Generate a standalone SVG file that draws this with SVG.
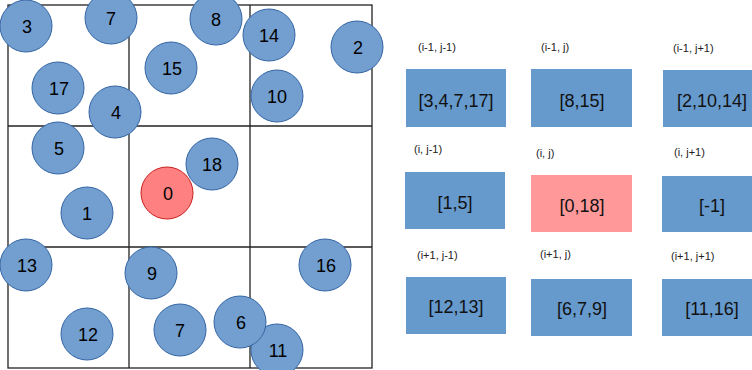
<svg xmlns="http://www.w3.org/2000/svg" width="752" height="370" viewBox="0 0 752 370">
<style>
.grid{fill:none;stroke:#222;stroke-width:1.3}
.c{fill:#729fcf;stroke:#3465a4;stroke-width:1}
.c0{fill:#ff8080;stroke:#c9211e;stroke-width:1}
.ct{font-family:"Liberation Sans",Arial,sans-serif;font-size:18px;fill:#000;text-anchor:middle}
.box{fill:#6699cc}
.box0{fill:#ff9999}
.bt{font-family:"Liberation Sans",Arial,sans-serif;font-size:18px;fill:#111;text-anchor:middle}
.lab{font-family:"Liberation Sans",Arial,sans-serif;font-size:11px;fill:#222}
</style>
<rect width="752" height="370" fill="#fff"/>
<g id="grid">
<rect class="grid" x="8" y="5" width="364" height="363"/>
<line class="grid" x1="129" y1="5" x2="129" y2="368"/>
<line class="grid" x1="250" y1="5" x2="250" y2="368"/>
<line class="grid" x1="8" y1="126" x2="372" y2="126"/>
<line class="grid" x1="8" y1="247" x2="372" y2="247"/>
</g>
<g id="n3"><circle class="c" cx="26" cy="26" r="26"/><text class="ct" x="27" y="32.5">3</text></g>
<g id="n7a"><circle class="c" cx="111" cy="18" r="26"/><text class="ct" x="111" y="24.5">7</text></g>
<g id="n8"><circle class="c" cx="216" cy="19" r="26"/><text class="ct" x="216" y="25.5">8</text></g>
<g id="n14"><circle class="c" cx="269" cy="35" r="26"/><text class="ct" x="269" y="41.5">14</text></g>
<g id="n2"><circle class="c" cx="357" cy="47" r="26"/><text class="ct" x="358" y="53.5">2</text></g>
<g id="n15"><circle class="c" cx="171" cy="68" r="26"/><text class="ct" x="172" y="74.5">15</text></g>
<g id="n17"><circle class="c" cx="58" cy="88" r="26"/><text class="ct" x="59" y="94.5">17</text></g>
<g id="n10"><circle class="c" cx="277" cy="96" r="26"/><text class="ct" x="277" y="102.5">10</text></g>
<g id="n4"><circle class="c" cx="115" cy="112" r="26"/><text class="ct" x="116" y="118.5">4</text></g>
<g id="n5"><circle class="c" cx="58" cy="148" r="26"/><text class="ct" x="59" y="154.5">5</text></g>
<g id="n0"><circle class="c0" cx="167" cy="193" r="26"/><text class="ct" x="168" y="199.5">0</text></g>
<g id="n18"><circle class="c" cx="212" cy="164" r="26"/><text class="ct" x="212" y="170.5">18</text></g>
<g id="n1"><circle class="c" cx="87" cy="213" r="26"/><text class="ct" x="87" y="219.5">1</text></g>
<g id="n13"><circle class="c" cx="26" cy="265" r="26"/><text class="ct" x="27" y="271.5">13</text></g>
<g id="n9"><circle class="c" cx="151" cy="273" r="26"/><text class="ct" x="152" y="279.5">9</text></g>
<g id="n16"><circle class="c" cx="325" cy="265" r="26"/><text class="ct" x="326" y="271.5">16</text></g>
<g id="n12"><circle class="c" cx="87" cy="334" r="26"/><text class="ct" x="88" y="340.5">12</text></g>
<g id="n7b"><circle class="c" cx="180" cy="330" r="26"/><text class="ct" x="180" y="336.5">7</text></g>
<g id="n11"><circle class="c" cx="277" cy="350" r="26"/><text class="ct" x="278" y="356.5">11</text></g>
<g id="n6"><circle class="c" cx="240" cy="322" r="26"/><text class="ct" x="241" y="328.5">6</text></g>
<g id="connectors"></g>
<g id="b00"><text class="lab" x="418" y="51">(i-1, j-1)</text><rect class="box" x="406" y="69" width="100" height="58"/><text class="bt" x="456" y="107">[3,4,7,17]</text></g>
<g id="b01"><text class="lab" x="541" y="51">(i-1, j)</text><rect class="box" x="531" y="69" width="101" height="58"/><text class="bt" x="582" y="107">[8,15]</text></g>
<g id="b02"><text class="lab" x="673" y="52">(i-1, j+1)</text><rect class="box" x="663" y="70" width="89" height="57"/><text class="bt" x="712" y="107">[2,10,14]</text></g>
<g id="b10"><text class="lab" x="414" y="153">(i, j-1)</text><rect class="box" x="405" y="172" width="100" height="57"/><text class="bt" x="455" y="209">[1,5]</text></g>
<g id="b11"><text class="lab" x="536" y="157">(i, j)</text><rect class="box0" x="531" y="175" width="101" height="57"/><text class="bt" x="582" y="212">[0,18]</text></g>
<g id="b12"><text class="lab" x="674" y="156">(i, j+1)</text><rect class="box" x="662" y="176" width="90" height="56"/><text class="bt" x="712" y="212">[-1]</text></g>
<g id="b20"><text class="lab" x="417" y="259">(i+1, j-1)</text><rect class="box" x="406" y="277" width="100" height="57"/><text class="bt" x="456" y="313">[12,13]</text></g>
<g id="b21"><text class="lab" x="540" y="258">(i+1, j)</text><rect class="box" x="531" y="279" width="101" height="57"/><text class="bt" x="582" y="315">[6,7,9]</text></g>
<g id="b22"><text class="lab" x="671" y="260">(i+1, j+1)</text><rect class="box" x="662" y="279" width="90" height="57"/><text class="bt" x="712" y="315">[11,16]</text></g>
</svg>
